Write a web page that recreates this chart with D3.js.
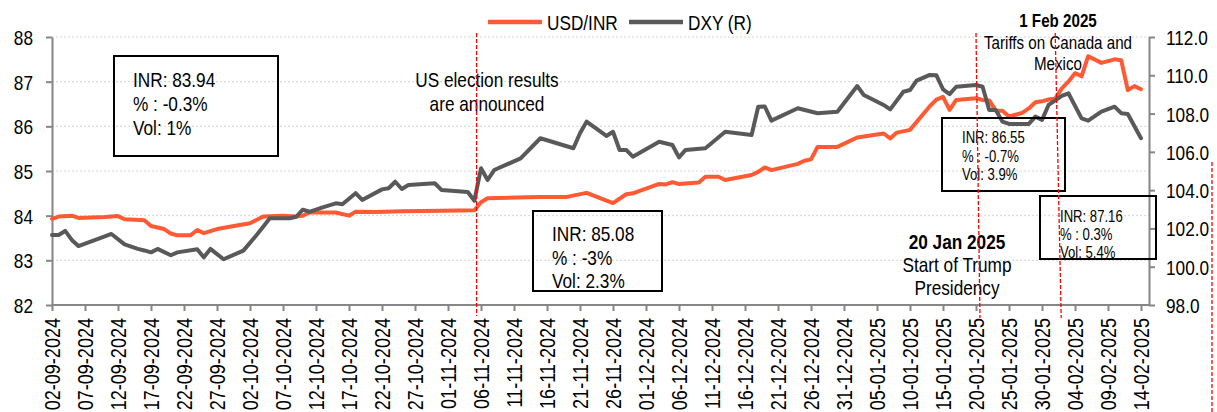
<!DOCTYPE html>
<html>
<head>
<meta charset="utf-8">
<title>USD/INR and DXY</title>
<script src="https://cdn.jsdelivr.net/npm/d3@7"></script>
<style>
body { margin: 0; background: #fff; }
svg { display: block; }
text { font-family: "Liberation Sans", Arial, sans-serif; fill: #000; }
</style>
</head>
<body>
<svg id="chart" width="1217" height="412"></svg>
<script>
// ---- data ----
const tickLabels = [
  '02-09-2024', '07-09-2024', '12-09-2024', '17-09-2024', '22-09-2024', '27-09-2024',
  '02-10-2024', '07-10-2024', '12-10-2024', '17-10-2024', '22-10-2024', '27-10-2024',
  '01-11-2024', '06-11-2024', '11-11-2024', '16-11-2024', '21-11-2024', '26-11-2024',
  '01-12-2024', '06-12-2024', '11-12-2024', '16-12-2024', '21-12-2024', '26-12-2024',
  '31-12-2024', '05-01-2025', '10-01-2025', '15-01-2025', '20-01-2025', '25-01-2025',
  '30-01-2025', '04-02-2025', '09-02-2025', '14-02-2025'
];

const leftTicks = [82, 83, 84, 85, 86, 87, 88];
const rightTicks = [98, 100, 102, 104, 106, 108, 110, 112];

const inrDates = [
  '2024-09-02', '2024-09-03', '2024-09-05', '2024-09-06', '2024-09-10', '2024-09-12', '2024-09-13',
  '2024-09-16', '2024-09-17', '2024-09-19', '2024-09-20', '2024-09-21', '2024-09-23', '2024-09-24',
  '2024-09-25', '2024-09-27', '2024-09-30', '2024-10-02', '2024-10-04', '2024-10-07', '2024-10-09',
  '2024-10-10', '2024-10-11', '2024-10-15', '2024-10-17', '2024-10-18', '2024-10-21', '2024-10-25',
  '2024-10-31', '2024-11-05', '2024-11-06', '2024-11-07', '2024-11-13', '2024-11-15', '2024-11-19',
  '2024-11-22', '2024-11-26', '2024-11-28', '2024-11-29', '2024-12-03', '2024-12-04', '2024-12-05',
  '2024-12-06', '2024-12-09', '2024-12-10', '2024-12-12', '2024-12-13', '2024-12-17', '2024-12-18',
  '2024-12-19', '2024-12-20', '2024-12-24', '2024-12-25', '2024-12-26', '2024-12-27', '2024-12-30',
  '2025-01-02', '2025-01-06', '2025-01-07', '2025-01-08', '2025-01-10', '2025-01-13', '2025-01-14',
  '2025-01-15', '2025-01-16', '2025-01-17', '2025-01-20', '2025-01-21', '2025-01-22', '2025-01-23',
  '2025-01-24', '2025-01-25', '2025-01-27', '2025-01-28', '2025-01-29', '2025-01-30', '2025-01-31',
  '2025-02-01', '2025-02-02', '2025-02-03', '2025-02-04', '2025-02-05', '2025-02-06', '2025-02-08',
  '2025-02-10', '2025-02-11', '2025-02-12', '2025-02-13', '2025-02-14'
];
const inrValues = [
  83.93, 83.98, 84.00, 83.95, 83.97, 83.99, 83.92,
  83.90, 83.77, 83.70, 83.60, 83.56, 83.56, 83.68,
  83.61, 83.70, 83.78, 83.83, 83.98, 84.00, 83.98,
  84.00, 84.07, 84.07, 84.00, 84.09, 84.08, 84.10,
  84.11, 84.12, 84.30, 84.39, 84.41, 84.42, 84.42,
  84.51, 84.28, 84.48, 84.50, 84.71, 84.70, 84.75,
  84.71, 84.74, 84.87, 84.87, 84.80, 84.91, 84.98,
  85.08, 85.02, 85.16, 85.23, 85.26, 85.54, 85.54,
  85.75, 85.84, 85.73, 85.86, 85.92, 86.45, 86.60,
  86.66, 86.37, 86.59, 86.63, 86.59, 86.58, 86.35,
  86.35, 86.22, 86.30, 86.40, 86.54, 86.56, 86.60,
  86.62, 86.85, 87.00, 87.19, 87.12, 87.57, 87.42,
  87.50, 87.48, 86.81, 86.90, 86.83
];

const dxyDates = [
  '2024-09-02', '2024-09-03', '2024-09-04', '2024-09-05', '2024-09-06', '2024-09-10', '2024-09-11',
  '2024-09-13', '2024-09-15', '2024-09-16', '2024-09-17', '2024-09-18', '2024-09-20', '2024-09-21',
  '2024-09-24', '2024-09-25', '2024-09-26', '2024-09-28', '2024-10-01', '2024-10-03', '2024-10-04',
  '2024-10-05', '2024-10-08', '2024-10-09', '2024-10-10', '2024-10-11', '2024-10-13', '2024-10-15',
  '2024-10-16', '2024-10-18', '2024-10-19', '2024-10-22', '2024-10-23', '2024-10-24', '2024-10-25',
  '2024-10-26', '2024-10-30', '2024-10-31', '2024-11-04', '2024-11-05', '2024-11-06', '2024-11-07',
  '2024-11-08', '2024-11-12', '2024-11-15', '2024-11-20', '2024-11-21', '2024-11-22', '2024-11-25',
  '2024-11-26', '2024-11-27', '2024-11-28', '2024-11-29', '2024-12-03', '2024-12-05', '2024-12-06',
  '2024-12-07', '2024-12-10', '2024-12-13', '2024-12-17', '2024-12-18', '2024-12-19', '2024-12-20',
  '2024-12-24', '2024-12-27', '2024-12-30', '2025-01-02', '2025-01-03', '2025-01-06', '2025-01-07',
  '2025-01-09', '2025-01-10', '2025-01-11', '2025-01-13', '2025-01-14', '2025-01-15', '2025-01-16',
  '2025-01-17', '2025-01-20', '2025-01-21', '2025-01-22', '2025-01-23', '2025-01-24', '2025-01-25',
  '2025-01-28', '2025-01-29', '2025-01-30', '2025-01-31', '2025-02-02', '2025-02-03', '2025-02-05',
  '2025-02-06', '2025-02-08', '2025-02-10', '2025-02-11', '2025-02-12', '2025-02-14'
];
const dxyValues = [
  101.66, 101.66, 101.87, 101.40, 101.08, 101.58, 101.71,
  101.17, 100.93, 100.85, 100.75, 100.93, 100.60, 100.75,
  100.91, 100.49, 100.93, 100.39, 100.84, 101.66, 102.09,
  102.53, 102.53, 102.61, 102.98, 102.87, 103.10, 103.31,
  103.26, 103.84, 103.49, 104.04, 104.10, 104.44, 104.06,
  104.27, 104.36, 104.01, 103.90, 103.45, 105.14, 104.53,
  105.05, 105.66, 106.71, 106.19, 106.97, 107.58, 106.83,
  107.05, 106.10, 106.10, 105.75, 106.53, 106.36, 105.71,
  106.10, 106.19, 107.05, 106.88, 108.36, 108.37, 107.63,
  108.28, 108.02, 108.10, 109.44, 108.97, 108.45, 108.22,
  109.14, 109.23, 109.72, 110.02, 110.00, 109.27, 109.02,
  109.40, 109.49, 109.40, 108.19, 108.19, 107.58, 107.46,
  107.46, 107.84, 107.67, 108.45, 108.92, 109.06, 107.75,
  107.63, 108.10, 108.36, 108.02, 107.98, 106.71
];

const seriesNames = ['USD/INR', 'DXY (R)'];
const seriesColors = ['#ff5a33', '#595959'];

const eventDates = ['2024-11-05T08:00', '2025-01-20', '2025-02-01'];

const boxTexts = [
  ['INR: 83.94', '% : -0.3%', 'Vol: 1%'],
  ['INR: 85.08', '% : -3%', 'Vol: 2.3%'],
  ['INR: 86.55', '% : -0.7%', 'Vol: 3.9%'],
  ['INR: 87.16', '% : 0.3%', 'Vol: 5.4%']
];
const electionNote = ['US election results', 'are announced'];
const trumpNote = ['20 Jan 2025', 'Start of Trump', 'Presidency'];
const tariffNote = ['1 Feb 2025', 'Tariffs on Canada and', 'Mexico'];

// ---- setup ----
const NARROW = 0.82;   // the source font is a narrow face
const svg = d3.select('#chart');
const parseTick = d3.timeParse('%d-%m-%Y');
const parseDay = d3.isoParse;

const plotLeft = 52, plotRight = 1149, plotTop = 37, plotBottom = 305;

const tickDates = tickLabels.map(parseTick);
const x = d3.scaleTime()
  .domain([tickDates[0], tickDates[tickDates.length - 1]])
  .range([plotLeft, 1141]);
const yL = d3.scaleLinear().domain([82, 88]).range([plotBottom, plotTop]);
const yR = d3.scaleLinear().domain([98, 112]).range([plotBottom, plotTop]);

const inr = inrDates.map((d, i) => ({ date: parseDay(d), v: inrValues[i] }));
const dxy = dxyDates.map((d, i) => ({ date: parseDay(d), v: dxyValues[i] }));

function narrowText(sel, tx, ty, str, size, anchor, weight) {
  return sel.append('text')
    .attr('transform', `translate(${tx},${ty}) scale(${NARROW},1)`)
    .attr('text-anchor', anchor || 'start')
    .attr('font-size', size)
    .attr('font-weight', weight || 'normal')
    .text(str);
}

// gridlines
svg.append('g')
  .selectAll('line')
  .data(leftTicks.slice(1))
  .join('line')
  .attr('x1', plotLeft).attr('x2', plotRight)
  .attr('y1', d => yL(d)).attr('y2', d => yL(d))
  .attr('stroke', '#d4d4d4')
  .attr('stroke-width', 1)
  .attr('stroke-dasharray', '2,2');

// axes
const axisColor = '#868686';

const gL = svg.append('g')
  .attr('transform', `translate(${plotLeft},0)`)
  .call(d3.axisLeft(yL).tickValues(leftTicks).tickSize(6).tickSizeOuter(0).tickFormat(d3.format('d')));
gL.selectAll('text')
  .attr('x', null).attr('dy', '0.36em')
  .attr('font-size', 21)
  .attr('transform', `translate(-19,0) scale(${NARROW},1)`);

const gR = svg.append('g')
  .attr('transform', `translate(${plotRight},0)`)
  .call(d3.axisRight(yR).tickValues(rightTicks).tickSize(6).tickSizeOuter(0).tickFormat(d3.format('.1f')));
gR.selectAll('text')
  .attr('x', null).attr('dy', '0.36em')
  .attr('font-size', 21)
  .attr('transform', `translate(17,0) scale(${NARROW},1)`);

const gX = svg.append('g')
  .attr('transform', `translate(0,${plotBottom})`)
  .call(d3.axisBottom(x).tickValues(tickDates).tickSize(6).tickSizeOuter(0).tickFormat(d3.timeFormat('%d-%m-%Y')));
gX.select('.domain').remove();
gX.append('line')
  .attr('x1', plotLeft).attr('x2', plotRight)
  .attr('stroke', axisColor).attr('stroke-width', 2);
gX.selectAll('text')
  .attr('y', null).attr('dy', '0.36em')
  .attr('text-anchor', 'end')
  .attr('font-size', 22)
  .attr('transform', `translate(0,13) rotate(-90) scale(${NARROW},1)`);

[gL, gR, gX].forEach(g => {
  g.selectAll('.domain').attr('stroke', axisColor).attr('stroke-width', 2);
  g.selectAll('.tick line').attr('stroke', axisColor).attr('stroke-width', 2);
  g.selectAll('text').attr('fill', '#000').attr('font-family', '"Liberation Sans", Arial, sans-serif');
});

// lines
const lineL = d3.line().x(d => x(d.date)).y(d => yL(d.v));
const lineR = d3.line().x(d => x(d.date)).y(d => yR(d.v));

svg.append('path')
  .datum(inr)
  .attr('d', lineL)
  .attr('fill', 'none')
  .attr('stroke', seriesColors[0])
  .attr('stroke-width', 4)
  .attr('stroke-linejoin', 'round')
  .attr('stroke-linecap', 'round');

svg.append('path')
  .datum(dxy)
  .attr('d', lineR)
  .attr('fill', 'none')
  .attr('stroke', seriesColors[1])
  .attr('stroke-width', 4)
  .attr('stroke-linejoin', 'round')
  .attr('stroke-linecap', 'round');

// legend
const legendX = [488, 629];
seriesNames.forEach((name, i) => {
  svg.append('line')
    .attr('x1', legendX[i]).attr('x2', legendX[i] + 54)
    .attr('y1', 22).attr('y2', 22)
    .attr('stroke', seriesColors[i]).attr('stroke-width', 4.5);
  narrowText(svg, legendX[i] + 59, 30, name, 21);
});

// annotation boxes
const boxes = [
  { x: 114, y: 56, w: 164, h: 100, tx: 133, ty: 87, lh: 24, size: 21 },
  { x: 533, y: 211, w: 129, h: 80, tx: 552, ty: 241, lh: 23.5, size: 21 },
  { x: 942, y: 118, w: 123, h: 73, tx: 962, ty: 143, lh: 18.7, size: 16 },
  { x: 1040, y: 196, w: 116, h: 63, tx: 1060, ty: 222, lh: 17.8, size: 16 }
];
boxes.forEach((b, i) => {
  svg.append('rect')
    .attr('x', b.x).attr('y', b.y).attr('width', b.w).attr('height', b.h)
    .attr('fill', 'none').attr('stroke', '#000').attr('stroke-width', 2);
  boxTexts[i].forEach((t, j) => narrowText(svg, b.tx, b.ty + j * b.lh, t, b.size));
});

// event notes
electionNote.forEach((t, j) => narrowText(svg, 487, 87 + j * 24, t, 21, 'middle'));
trumpNote.forEach((t, j) => narrowText(svg, 957, 249 + j * 23, t, 21, 'middle', j === 0 ? 'bold' : 'normal'));
tariffNote.forEach((t, j) => narrowText(svg, 1058, 27 + j * 21.5, t, 18.5, 'middle', j === 0 ? 'bold' : 'normal'));

// event markers (red dashed)
const eventLean = [0, 4, 6];
eventDates.forEach((d, i) => {
  const ex = x(parseDay(d));
  svg.append('line')
    .attr('x1', ex).attr('x2', ex + eventLean[i])
    .attr('y1', 33).attr('y2', i === 0 ? 316 : 318)
    .attr('stroke', '#ff0000').attr('stroke-width', 1.3)
    .attr('stroke-dasharray', '4,2');
});
// stray marker at the right edge of the source picture
svg.append('line')
  .attr('x1', 1212).attr('x2', 1212).attr('y1', 162).attr('y2', 412)
  .attr('stroke', '#ff0000').attr('stroke-width', 1.3)
  .attr('stroke-dasharray', '4,2');
</script>
</body>
</html>
